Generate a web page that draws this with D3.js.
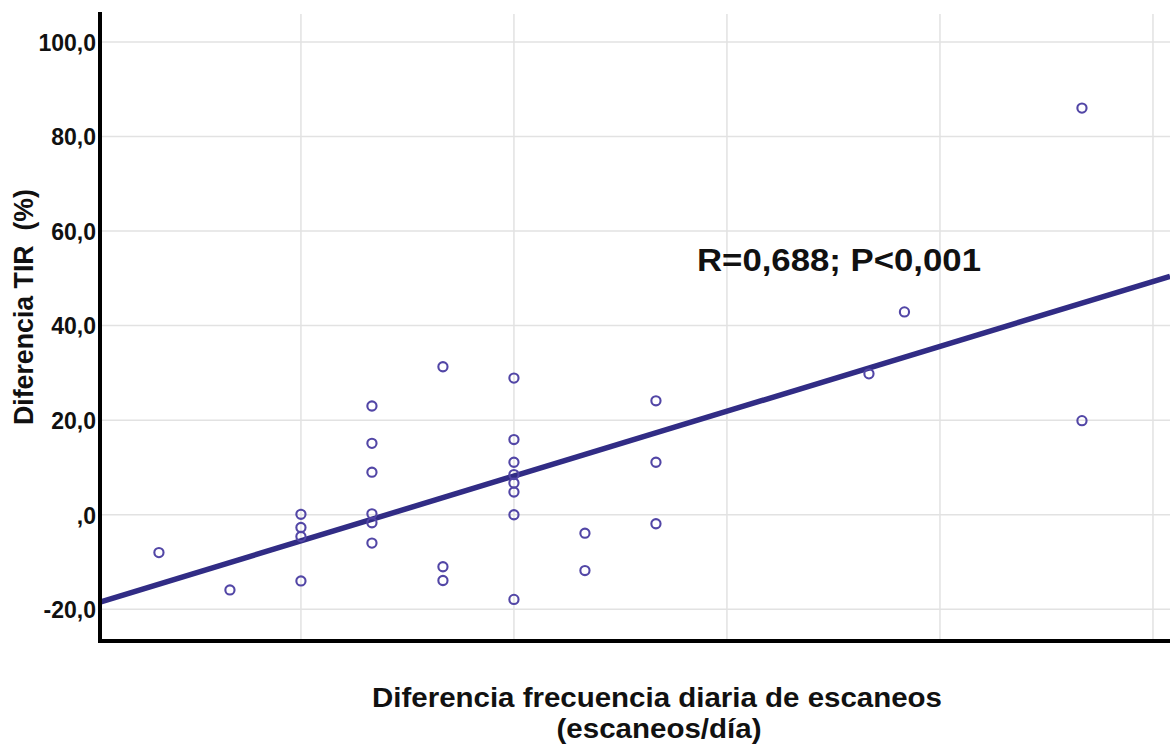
<!DOCTYPE html>
<html>
<head>
<meta charset="utf-8">
<script src="https://cdn.jsdelivr.net/npm/d3@7"></script>
<title>Diferencia TIR vs escaneos</title>
<style>
  html, body { margin:0; padding:0; background:#fff; }
  svg text { font-family:"Liberation Sans", Arial, sans-serif; font-weight:bold; fill:#111; white-space:pre; }
</style>
</head>
<body>
<svg id="chart" width="1170" height="747"></svg>
<script>
// difference in daily scans (scans/day) per patient
var scanDiff = [-2, -1,
  0, 0, 0, 0,
  1, 1, 1, 1, 1, 1,
  2, 2, 2,
  3, 3, 3, 3, 3, 3, 3, 3,
  4, 4,
  5, 5, 5,
  8, 8.5, 11, 11];
// difference in TIR (%)
var tirDiff = [-8.0, -15.9,
  0.1, -2.7, -4.6, -14.0,
  23.0, 15.1, 9.0, 0.2, -1.7, -6.0,
  31.3, -11.0, -13.9,
  28.9, 15.9, 11.1, 8.5, 6.7, 4.8, 0.0, -17.9,
  -3.9, -11.8,
  24.1, 11.1, -1.9,
  29.8, 42.9, 86.0, 19.9];
var yTicks = [-20, 0, 20, 40, 60, 80, 100];
var xGrid = [0, 3, 6, 9, 12];
var statLabel = "R=0,688; P<0,001";

var svg = d3.select("#chart");
var pLeft = 100, pRight = 1170, pTop = 14, pBottom = 641;

var x = d3.scaleLinear().domain([-2.83, 12.24]).range([pLeft, pRight]);
var y = d3.scaleLinear().domain([-26.7, 105.9]).range([pBottom, pTop]);

svg.append("clipPath").attr("id", "plotclip")
  .append("rect").attr("x", pLeft).attr("y", pTop - 2)
  .attr("width", pRight - pLeft).attr("height", pBottom - pTop + 2);

// grid
var grid = svg.append("g").attr("stroke", "#e2e2e2").attr("stroke-width", 1.5);
grid.selectAll(".hg").data(yTicks).enter().append("line")
  .attr("x1", pLeft).attr("x2", pRight)
  .attr("y1", function(d){ return y(d); }).attr("y2", function(d){ return y(d); });
grid.selectAll(".vg").data(xGrid).enter().append("line")
  .attr("y1", pTop).attr("y2", pBottom)
  .attr("x1", function(d){ return x(d); }).attr("x2", function(d){ return x(d); });

// y axis labels
var fmt = function(d){ return d === 0 ? ",0" : d.toFixed(1).replace(".", ","); };
var yAxis = d3.axisLeft(y).tickValues(yTicks).tickFormat(fmt).tickSize(0).tickPadding(3);
var ya = svg.append("g").attr("transform", "translate(" + (pLeft - 1) + ",0)").call(yAxis);
ya.select(".domain").remove();
ya.selectAll("text")
  .style("font-family", "'Liberation Sans', Arial, sans-serif")
  .style("font-weight", "bold").style("font-size", "23px").attr("fill", "#111")
  .attr("dy", "0.36em");

// least squares fit line
var n = scanDiff.length;
var mx = d3.mean(scanDiff), my = d3.mean(tirDiff);
var sxy = 0, sxx = 0;
for (var i = 0; i < n; i++) {
  sxy += (scanDiff[i] - mx) * (tirDiff[i] - my);
  sxx += (scanDiff[i] - mx) * (scanDiff[i] - mx);
}
var slope = sxy / sxx, icpt = my - slope * mx;
var xd = x.domain();
svg.append("g").attr("clip-path", "url(#plotclip)")
  .append("line")
  .attr("x1", x(xd[0])).attr("y1", y(icpt + slope * xd[0]))
  .attr("x2", x(xd[1])).attr("y2", y(icpt + slope * xd[1]))
  .attr("stroke", "#312c85").attr("stroke-width", 5.5);

// points
svg.append("g").selectAll("circle")
  .data(scanDiff.map(function(v, i){ return [v, tirDiff[i]]; }))
  .enter().append("circle")
  .attr("cx", function(d){ return x(d[0]); })
  .attr("cy", function(d){ return y(d[1]); })
  .attr("r", 4.6)
  .attr("fill", "none").attr("stroke", "#5246a6").attr("stroke-width", 2.1);

// axes lines
svg.append("line").attr("x1", pLeft).attr("x2", pLeft).attr("y1", 12).attr("y2", pBottom + 2)
  .attr("stroke", "#000").attr("stroke-width", 4);
svg.append("line").attr("x1", pLeft - 2).attr("x2", pRight).attr("y1", pBottom).attr("y2", pBottom)
  .attr("stroke", "#000").attr("stroke-width", 4);

// annotation
svg.append("text").attr("x", 697).attr("y", 271)
  .attr("textLength", 284).attr("lengthAdjust", "spacingAndGlyphs")
  .style("font-size", "31px").text(statLabel);

// axis titles
svg.append("text").attr("x", 657).attr("y", 707).attr("text-anchor", "middle")
  .attr("textLength", 570).attr("lengthAdjust", "spacingAndGlyphs")
  .style("font-size", "28px").text("Diferencia frecuencia diaria de escaneos");
svg.append("text").attr("x", 659).attr("y", 738).attr("text-anchor", "middle")
  .attr("textLength", 205).attr("lengthAdjust", "spacingAndGlyphs")
  .style("font-size", "28px").text("(escaneos/día)");

svg.append("text").attr("transform", "translate(33,307) rotate(-90)")
  .attr("text-anchor", "middle")
  .attr("textLength", 236).attr("lengthAdjust", "spacingAndGlyphs")
  .style("font-size", "28px").text("Diferencia TIR  (%)");
</script>
</body>
</html>
